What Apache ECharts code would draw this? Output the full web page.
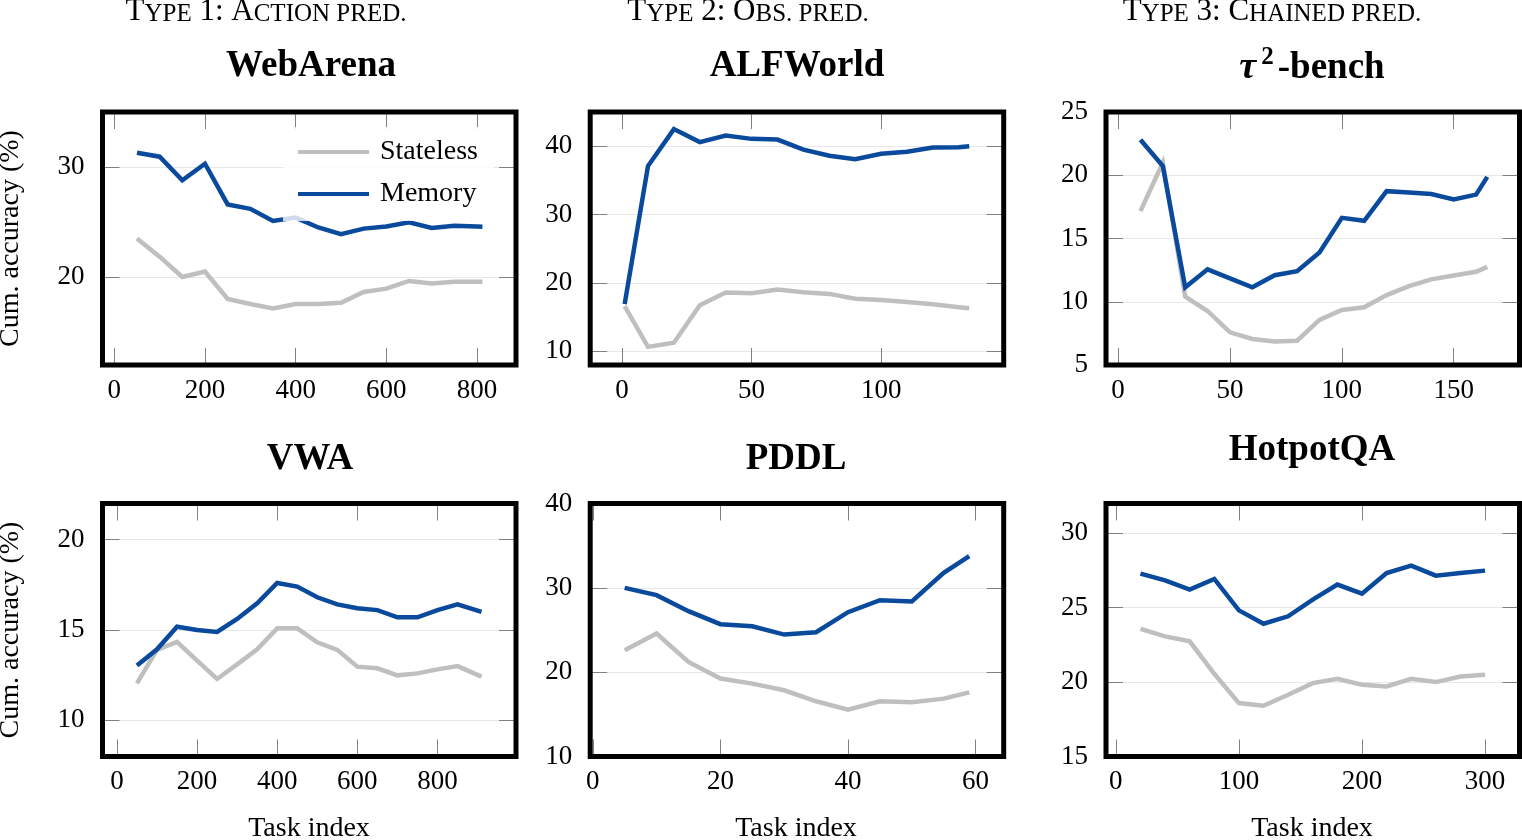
<!DOCTYPE html>
<html>
<head>
<meta charset="utf-8">
<script src="https://cdn.jsdelivr.net/npm/echarts@6/dist/echarts.min.js"></script>
<style>
  html, body { margin: 0; padding: 0; background: #fff; }
  #main { width: 1522px; height: 840px; }
</style>
</head>
<body>
<div id="main"></div>
<script>
// ---- data ----
var webArenaX = [50, 100, 150, 200, 250, 300, 350, 400, 450, 500, 550, 600, 650, 700, 750, 800, 812];
var webArenaStateless = [23.5, 21.85, 20.0, 20.5, 18.0, 17.55, 17.15, 17.55, 17.55, 17.66, 18.64, 18.94, 19.64, 19.4, 19.57, 19.57, 19.57];
var webArenaMemory = [31.3, 30.94, 28.8, 30.3, 26.6, 26.2, 25.1, 25.4, 24.5, 23.9, 24.4, 24.6, 24.97, 24.45, 24.66, 24.6, 24.57];

var alfX = [1, 10, 20, 30, 40, 50, 60, 70, 80, 90, 100, 110, 120, 130, 134];
var alfStateless = [16.6, 10.65, 11.25, 16.75, 18.6, 18.5, 19.05, 18.65, 18.4, 17.7, 17.5, 17.2, 16.9, 16.45, 16.3];
var alfMemory = [16.9, 37.1, 42.5, 40.6, 41.55, 41.07, 40.97, 39.5, 38.6, 38.1, 38.9, 39.2, 39.8, 39.85, 40.0];

var tauX = [10, 20, 30, 40, 50, 60, 70, 80, 90, 100, 110, 120, 130, 140, 150, 160, 165];
var tauStateless = [17.16, 21.0, 10.4, 9.27, 7.58, 7.06, 6.85, 6.92, 8.56, 9.35, 9.56, 10.53, 11.24, 11.77, 12.08, 12.37, 12.76];
var tauMemory = [22.8, 20.73, 11.14, 12.56, 11.85, 11.14, 12.1, 12.42, 13.9, 16.63, 16.4, 18.74, 18.63, 18.52, 18.08, 18.47, 19.87];

var vwaX = [50, 100, 150, 200, 250, 300, 350, 400, 450, 500, 550, 600, 650, 700, 750, 800, 850, 910];
var vwaStateless = [12.05, 13.9, 14.34, 13.3, 12.29, 13.1, 13.93, 15.09, 15.09, 14.32, 13.9, 12.97, 12.88, 12.49, 12.6, 12.82, 13.0, 12.42];
var vwaMemory = [13.03, 13.93, 15.18, 15.0, 14.89, 15.61, 16.48, 17.6, 17.4, 16.81, 16.42, 16.2, 16.1, 15.7, 15.7, 16.1, 16.42, 16.0];

var pddlX = [5, 10, 15, 20, 25, 30, 35, 40, 45, 50, 55, 59];
var pddlStateless = [22.6, 24.58, 21.21, 19.24, 18.64, 17.85, 16.55, 15.56, 16.55, 16.43, 16.86, 17.61];
var pddlMemory = [30.0, 29.13, 27.23, 25.69, 25.45, 24.46, 24.74, 27.11, 28.54, 28.38, 31.78, 33.76];

var hotpotX = [20, 40, 60, 80, 100, 120, 140, 160, 180, 200, 220, 240, 260, 280, 300];
var hotpotStateless = [23.57, 23.07, 22.74, 20.56, 18.59, 18.41, 19.15, 19.93, 20.22, 19.82, 19.71, 20.22, 20.0, 20.38, 20.49];
var hotpotMemory = [27.29, 26.84, 26.21, 26.93, 24.82, 23.92, 24.42, 25.54, 26.55, 25.94, 27.33, 27.83, 27.15, 27.33, 27.49];

var seriesNames = ['Stateless', 'Memory'];

// ---- layout ----
var serif = 'Liberation Serif';
var colLeft = [102.5, 590.2, 1106];
var rowTop = [112, 503.5];
var boxW = 413.5, boxH = 253;

var panels = [
  { x: webArenaX, s: webArenaStateless, m: webArenaMemory, col: 0, row: 0,
    xr: [-26, 886], xs: 5, yr: [12, 35], ys: 2, yMinL: false, yMaxL: false },
  { x: alfX, s: alfStateless, m: alfMemory, col: 1, row: 0,
    xr: [-12.3, 147.3], xs: 3, yr: [8, 45], ys: 4, yMinL: false, yMaxL: false },
  { x: tauX, s: tauStateless, m: tauMemory, col: 2, row: 0,
    xr: [-5.4, 179.4], xs: 4, yr: [5, 25], ys: 4, yMinL: true, yMaxL: true },
  { x: vwaX, s: vwaStateless, m: vwaMemory, col: 0, row: 1,
    xr: [-36, 996], xs: 5, yr: [8, 22], ys: 3, yMinL: false, yMaxL: false },
  { x: pddlX, s: pddlStateless, m: pddlMemory, col: 1, row: 1,
    xr: [-0.4, 64.4], xs: 3, yr: [10, 40], ys: 3, yMinL: true, yMaxL: true },
  { x: hotpotX, s: hotpotStateless, m: hotpotMemory, col: 2, row: 1,
    xr: [-8, 328], xs: 3, yr: [15, 32], ys: 3, yMinL: true, yMaxL: false }
];

function pairs(xs, ys) {
  return xs.map(function (v, i) { return [v, ys[i]]; });
}

var tickStyle = { inside: true, length: 17, lineStyle: { color: '#808080', width: 1 } };
var grids = [], xAxes = [], yAxes = [], series = [];

panels.forEach(function (p, i) {
  grids.push({
    left: colLeft[p.col], top: rowTop[p.row], width: boxW, height: boxH,
    show: true, borderColor: '#000', borderWidth: 5, z: 5,
    outerBoundsMode: 'none', containLabel: false
  });
  xAxes.push({
    type: 'value', gridIndex: i, position: 'bottom', min: p.xr[0], max: p.xr[1], splitNumber: p.xs,
    axisLine: { show: false, onZero: false }, axisTick: tickStyle, splitLine: { show: false },
    axisLabel: { fontFamily: serif, fontSize: 27, color: '#000', margin: 12, showMinLabel: false, showMaxLabel: false }
  });
  xAxes.push({
    type: 'value', gridIndex: i, position: 'top', min: p.xr[0], max: p.xr[1], splitNumber: p.xs,
    axisLine: { show: false, onZero: false }, axisTick: tickStyle, splitLine: { show: false },
    axisLabel: { show: false }
  });
  yAxes.push({
    type: 'value', gridIndex: i, position: 'left', min: p.yr[0], max: p.yr[1], splitNumber: p.ys,
    axisLine: { show: false, onZero: false }, axisTick: tickStyle,
    splitLine: { show: true, lineStyle: { color: '#e8e8e8', width: 1 } },
    axisLabel: { fontFamily: serif, fontSize: 27, color: '#000', margin: 18, showMinLabel: p.yMinL, showMaxLabel: p.yMaxL }
  });
  yAxes.push({
    type: 'value', gridIndex: i, position: 'right', min: p.yr[0], max: p.yr[1], splitNumber: p.ys,
    axisLine: { show: false, onZero: false }, axisTick: tickStyle, splitLine: { show: false },
    axisLabel: { show: false }
  });
  series.push({
    name: seriesNames[0], type: 'line', xAxisIndex: 2 * i, yAxisIndex: 2 * i,
    data: pairs(p.x, p.s), symbol: 'none', color: '#bfbfbf',
    lineStyle: { color: '#bfbfbf', width: 4.5, join: 'miter' }, z: 2
  });
  series.push({
    name: seriesNames[1], type: 'line', xAxisIndex: 2 * i, yAxisIndex: 2 * i,
    data: pairs(p.x, p.m), symbol: 'none', color: '#0a4a9c',
    lineStyle: { color: '#0a4a9c', width: 4.5, join: 'miter' }, z: 3
  });
});

// ---- texts ----
// small caps imitation: big capital + smaller capitals
var scRich = {
  b: { fontFamily: serif, fontSize: 31, lineHeight: 36, verticalAlign: 'bottom', fill: '#000' },
  s: { fontFamily: serif, fontSize: 25, lineHeight: 32, verticalAlign: 'bottom', fill: '#000' }
};
function header(x, text) {
  return { type: 'text', x: x, y: 9, style: { text: text, rich: scRich, align: 'center', verticalAlign: 'middle' } };
}
function title(x, y, text) {
  return { type: 'text', x: x, y: y, style: { text: text, fontFamily: serif, fontSize: 37, fontWeight: 'bold',
    fill: '#000', align: 'center', verticalAlign: 'middle' } };
}
function plain(x, y, text, rot) {
  return { type: 'text', x: x, y: y, rotation: rot || 0, style: { text: text, fontFamily: serif, fontSize: 28,
    fill: '#000', align: 'center', verticalAlign: 'middle' } };
}

var texts = [
  header(266, '{b|T}{s|YPE}{b| 1: A}{s|CTION PRED.}'),
  header(748, '{b|T}{s|YPE}{b| 2: O}{s|BS. PRED.}'),
  header(1272, '{b|T}{s|YPE}{b| 3: C}{s|HAINED PRED.}'),
  title(311, 66, 'WebArena'),
  title(797, 66, 'ALFWorld'),
  { type: 'text', x: 1312, y: 66, style: {
      text: '{t|τ}{p|2}{b|-bench}', align: 'center', verticalAlign: 'middle',
      rich: {
        t: { fontFamily: serif, fontSize: 38, fontWeight: 'bold', fontStyle: 'italic', lineHeight: 42, verticalAlign: 'bottom', fill: '#000' },
        p: { fontFamily: serif, fontSize: 25, fontWeight: 'bold', lineHeight: 26, verticalAlign: 'top', fill: '#000', padding: [0, 4, 0, 5] },
        b: { fontFamily: serif, fontSize: 37, fontWeight: 'bold', lineHeight: 42, verticalAlign: 'bottom', fill: '#000' }
      } } },
  title(310, 459, 'VWA'),
  title(796, 459, 'PDDL'),
  title(1312, 450, 'HotpotQA'),
  plain(11, 238.5, 'Cum. accuracy (%)', Math.PI / 2),
  plain(11, 630, 'Cum. accuracy (%)', Math.PI / 2),
  plain(309, 829, 'Task index'),
  plain(796, 829, 'Task index'),
  plain(1312, 829, 'Task index')
];

var chart = echarts.init(document.getElementById('main'), null, { renderer: 'canvas' });
chart.setOption({
  animation: false,
  backgroundColor: '#fff',
  legend: {
    data: seriesNames, orient: 'vertical', left: 283, top: 127,
    padding: [10, 16, 12, 15], icon: 'rect', itemWidth: 71, itemHeight: 4, itemGap: 12,
    backgroundColor: 'rgba(255,255,255,0.8)', selectedMode: false,
    textStyle: { fontFamily: serif, fontSize: 28, color: '#000', lineHeight: 30, padding: [0, 0, 0, 6] }
  },
  grid: grids,
  xAxis: xAxes,
  yAxis: yAxes,
  series: series,
  graphic: texts
});
</script>
</body>
</html>
